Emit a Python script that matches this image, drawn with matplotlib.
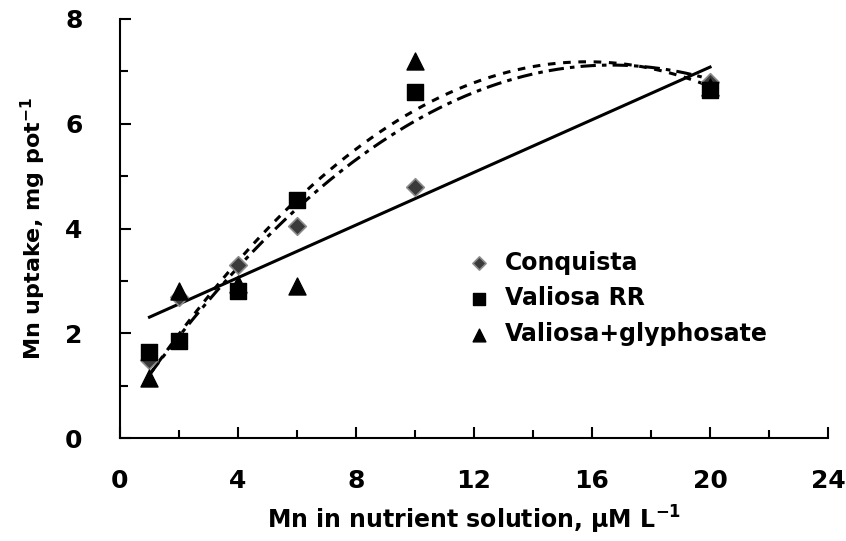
import numpy as np
import matplotlib.pyplot as plt
from matplotlib.ticker import MultipleLocator

plt.rcParams['font.family'] = ['DejaVu Sans']
plt.rcParams['font.weight'] = 'bold'
plt.rcParams['mathtext.fontset'] = 'custom'
plt.rcParams['mathtext.rm'] = 'DejaVu Sans:bold'
plt.rcParams['mathtext.bf'] = 'DejaVu Sans:bold'
plt.rcParams['mathtext.default'] = 'bf'

# Mn in nutrient solution (uM)
mn = [1, 2, 4, 6, 10, 20]
# Mn uptake (mg/pot)
conquista = [1.5, 2.7, 3.3, 4.05, 4.8, 6.8]
valiosa_rr = [1.65, 1.85, 2.8, 4.55, 6.6, 6.65]
valiosa_gly = [1.15, 2.8, 2.95, 2.9, 7.2, 6.7]

fig = plt.figure(figsize=(8.46, 5.41), dpi=100)
ax = fig.add_axes([0.1418, 0.19, 0.837, 0.775])

x = np.array(mn, dtype=float)
xs = np.linspace(1, 20, 200)

# trend lines (linear for Conquista, quadratic for the Valiosa series)
p_c = np.polyfit(x, conquista, 1)
p_r = np.polyfit(x, valiosa_rr, 2)
p_g = np.polyfit(x, valiosa_gly, 2)
ax.plot(xs, np.polyval(p_c, xs), color='black', lw=2.2, zorder=2)
ax.plot(xs, np.polyval(p_r, xs), color='black', lw=2.2, ls=(0, (2.5, 2.5)), zorder=2)
ax.plot(xs, np.polyval(p_g, xs), color='black', lw=2.2, ls=(0, (5, 2, 1.5, 2)), zorder=2)

ax.scatter(mn, conquista, marker='D', s=80, color='#3a3a3a', edgecolors='#8a8a8a',
           linewidths=1.2, label='Conquista', zorder=3)
ax.scatter(mn, valiosa_rr, marker='s', s=130, color='black', label='Valiosa RR', zorder=3)
ax.scatter(mn, valiosa_gly, marker='^', s=150, color='black', label='Valiosa+glyphosate', zorder=3)

ax.set_xlim(0, 24)
ax.set_ylim(0, 8)
ax.xaxis.set_major_locator(MultipleLocator(4))
ax.xaxis.set_minor_locator(MultipleLocator(2))
ax.yaxis.set_major_locator(MultipleLocator(2))
ax.yaxis.set_minor_locator(MultipleLocator(1))
ax.tick_params(which='both', direction='in', labelsize=18, width=1.5)
ax.tick_params(axis='x', which='major', pad=22)
ax.tick_params(axis='y', which='major', pad=27)
ax.tick_params(which='major', length=8)
ax.tick_params(which='minor', length=6)
for s in ['top', 'right']:
    ax.spines[s].set_visible(False)
for s in ['left', 'bottom']:
    ax.spines[s].set_linewidth(1.5)

ax.set_xlabel(r'Mn in nutrient solution, $\mu$M L$^{-1}$', fontsize=17, fontweight='bold', labelpad=8)
ax.set_ylabel(r'Mn uptake, mg pot$^{-1}$', fontsize=16, fontweight='bold', labelpad=12)

ax.legend(loc='upper left', bbox_to_anchor=(0.46, 0.47), frameon=False, fontsize=17,
          handletextpad=0.1, labelspacing=0.5, borderaxespad=0, markerscale=0.75)

fig.savefig('out.png', dpi=100)
